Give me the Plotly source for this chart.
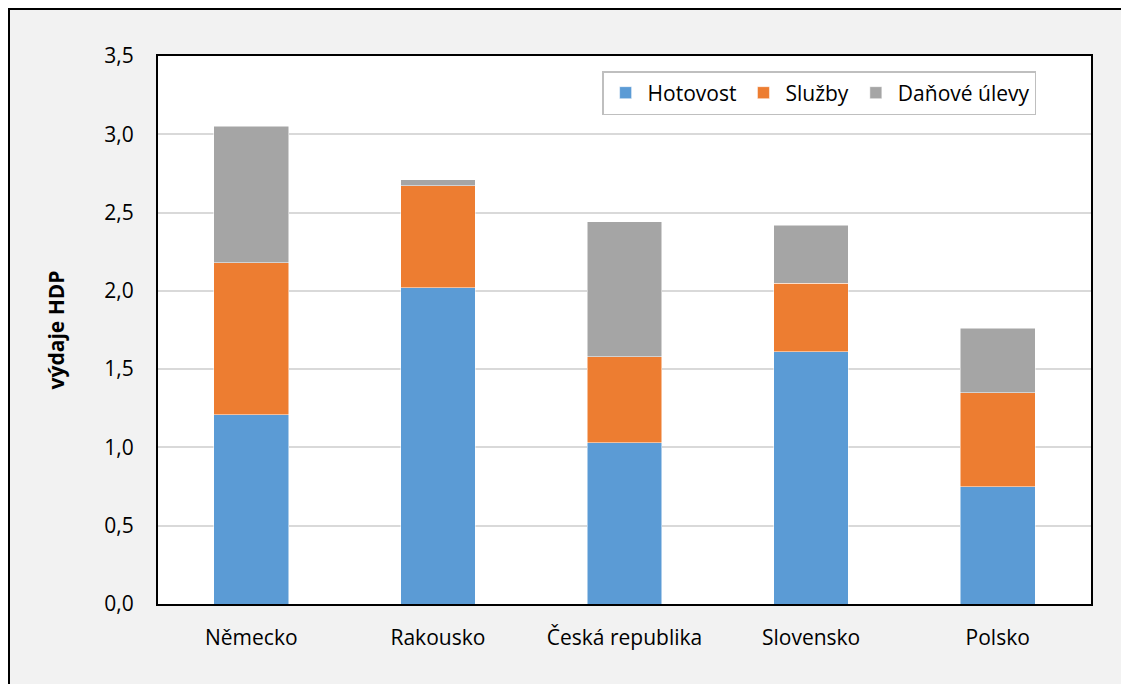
import plotly.graph_objects as go

# data (% of GDP)
countries = ['Německo', 'Rakousko', 'Česká republika', 'Slovensko', 'Polsko']
hotovost = [1.21, 2.02, 1.03, 1.61, 0.75]
sluzby = [0.97, 0.65, 0.55, 0.44, 0.60]
danove_ulevy = [0.87, 0.04, 0.86, 0.37, 0.41]

series = [
    ('Hotovost', hotovost, '#5b9bd5'),
    ('Služby', sluzby, '#ed7d31'),
    ('Daňové úlevy', danove_ulevy, '#a5a5a5'),
]

fig = go.Figure()
for name, vals, color in series:
    fig.add_trace(go.Bar(
        x=countries, y=vals, name=name,
        marker=dict(color=color, line=dict(color='white', width=0.5)),
    ))

fig.update_layout(
    width=1129, height=684,
    barmode='stack', bargap=0.6,
    separators=', ',
    paper_bgcolor='#f2f2f2',
    plot_bgcolor='#ffffff',
    margin=dict(l=150, r=46, t=48, b=88),
    font=dict(family='Open Sans, sans-serif', size=21, color='#000000'),
    legend=dict(
        orientation='h',
        x=0.476, y=0.9726, xanchor='left', yanchor='top',
        bgcolor='#ffffff', bordercolor='#bfbfbf', borderwidth=1.5,
        font=dict(size=21),
        itemwidth=34,
        traceorder='normal',
    ),
    xaxis=dict(
        showline=True, linecolor='#000000', linewidth=2, mirror=True,
        ticks='', showgrid=False, ticklabelstandoff=14,
    ),
    yaxis=dict(
        title=dict(text='<b>výdaje HDP</b>', font=dict(size=21), standoff=34),
        range=[0, 3.5], dtick=0.5, tickformat='.1f',
        showline=True, linecolor='#000000', linewidth=2, mirror=True,
        gridcolor='#d9d9d9', gridwidth=1.5, zeroline=False,
        ticks='', ticklabelstandoff=18,
    ),
    shapes=[
        # outer chart frame (right and bottom sides run off the picture)
        dict(type='rect', xref='paper', yref='paper',
             x0=-0.1597, x1=1.2, y0=-0.3, y1=1.0858,
             line=dict(color='#000000', width=2), layer='below'),
    ],
)

fig.write_html('out.html')
